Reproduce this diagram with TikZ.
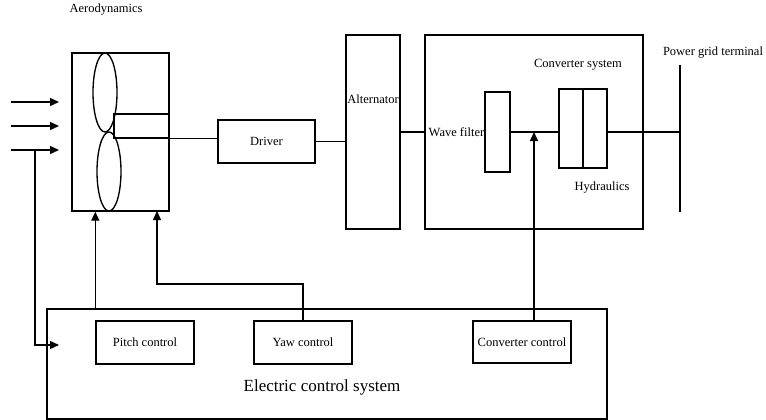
\documentclass[tikz,border=0pt]{standalone}
\usepackage{fontspec}
\setmainfont{Liberation Serif}
\usetikzlibrary{arrows.meta,shapes.geometric}
\begin{document}
\begin{tikzpicture}[x=1pt,y=-1pt,
  line width=1.35pt,
  box/.style={draw,rectangle,inner sep=0pt,anchor=center},
  blade/.style={draw,ellipse,inner sep=0pt,line width=1.35pt},
  lbl/.style={inner sep=0pt,font=\fontsize{12.5}{14}\selectfont},
  arr/.style={-{Triangle[length=9pt,width=8pt]}}]
\useasboundingbox (0,0) rectangle (766,420);
% labels
\node[lbl] (aero) at (106,10) {Aerodynamics};
% rotor
\node[box,minimum width=97pt,minimum height=158pt] (rotor) at (120.5,132) {};
\node[blade,minimum width=24pt,minimum height=79pt] (bladeA) at (105,92.5) {};
\node[blade,minimum width=24pt,minimum height=79pt] (bladeB) at (109,171.5) {};
\node[box,minimum width=55pt,minimum height=24pt] (hub) at (141.5,126) {};
% driver
\node[box,minimum width=97pt,minimum height=43pt] (driver) at (266.5,141.5) {};
\node[lbl] (driverlbl) at (266.5,141.5) {Driver};
% alternator
\node[box,minimum width=54pt,minimum height=194pt] (alt) at (373,132) {};
\node[lbl] (altlbl) at (373,99) {Alternator};
% converter system
\node[box,minimum width=218pt,minimum height=194pt] (conv) at (534,132) {};
\node[lbl] (convlbl) at (578,65) {Converter system};
\node[lbl] (wavelbl) at (456.5,132) {Wave filter};
\node[box,minimum width=25pt,minimum height=80pt] (filter) at (497.5,132) {};
\node[box,minimum width=24pt,minimum height=79pt] (hydL) at (571,128.5) {};
\node[box,minimum width=24pt,minimum height=79pt] (hydR) at (595,128.5) {};
\node[lbl] (hydlbl) at (602,188) {Hydraulics};
% grid
\node[lbl] (gridlbl) at (713,53) {Power grid terminal};
\coordinate (gridtop) at (680,65);
\coordinate (gridbot) at (680,212);
\draw (gridtop) -- (gridbot);
% control system
\node[box,minimum width=560pt,minimum height=110pt] (ctrl) at (327,364) {};
\node[box,minimum width=98pt,minimum height=43pt] (pitch) at (145,342.5) {};
\node[lbl] (pitchlbl) at (145,342.5) {Pitch control};
\node[box,minimum width=98pt,minimum height=43pt] (yaw) at (303,342.5) {};
\node[lbl] (yawlbl) at (303,342.5) {Yaw control};
\node[box,minimum width=98pt,minimum height=42pt] (convctl) at (522,342) {};
\node[lbl] (convctllbl) at (522,342) {Converter control};
\node[inner sep=0pt,font=\fontsize{17}{19}\selectfont] (ctrllbl) at (322,387) {Electric control system};
% wind arrows
\coordinate (w1s) at (11,102); \coordinate (w1e) at (59,102);
\coordinate (w2s) at (11,126); \coordinate (w2e) at (59,126);
\coordinate (w3s) at (11,150); \coordinate (w3e) at (59,150);
\coordinate (wsplit) at (35,150);
\coordinate (ctrlin) at (59,345);
\draw[arr] (w1s) -- (w1e);
\draw[arr] (w2s) -- (w2e);
\draw[arr] (w3s) -- (w3e);
\draw[arr] (wsplit) |- (ctrlin);
% power chain
\draw (hub.south west) -- (hub.south west -| driver.west);
\draw (driver.east) -- (driver.east -| alt.west);
\draw (alt.east) -- (conv.west);
\draw (filter.east) -- (filter.east -| hydL.west);
\draw (filter.east -| hydR.east) -- (filter.east -| gridtop);
% control arrows
\coordinate (ccpt) at (534,132);
\draw[arr] (ccpt |- convctl.north) -- (ccpt);
\draw[arr] (pitch.west |- ctrl.north) -- (pitch.west |- rotor.south);
\coordinate (yawpt) at (157,211);
\coordinate (yawturn) at (303,284);
\draw[arr] (yaw.north) -- (yawturn) -| (yawpt);
\end{tikzpicture}
\end{document}
